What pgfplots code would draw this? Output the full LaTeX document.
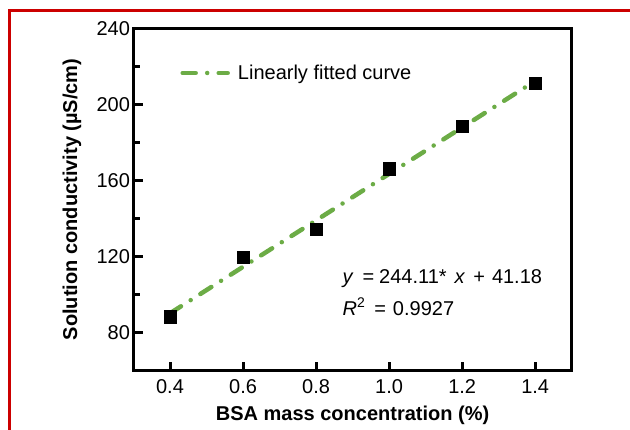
\documentclass[border=0pt]{standalone}
\usepackage{pgfplots}
\pgfplotsset{compat=1.18}
\usepackage{fontspec}
\setmainfont{Liberation Sans}
\definecolor{fitgreen}{RGB}{108,172,70}
\definecolor{framered}{RGB}{204,0,0}
\begin{document}
\begin{tikzpicture}
\useasboundingbox (0,0) rectangle (630bp,-430bp);
\draw[framered, line width=3bp] (9bp,-432bp) -- (9bp,-10bp) -- (632bp,-10bp);
\begin{axis}[
  at={(133.5bp,-370.5bp)}, anchor=south west,
  scale only axis, width=438.2bp, height=342.2bp,
  xmin=0.3, xmax=1.5, ymin=60, ymax=240,
  xtick={0.4,0.6,0.8,1.0,1.2,1.4},
  xticklabels={0.4,0.6,0.8,1.0,1.2,1.4},
  ytick={80,120,160,200,240},
  minor ytick={100,140,180,220},
  tick align=inside, xtick pos=bottom, ytick pos=left,
  major tick length=9bp, minor tick length=6bp,
  tick style={line width=3bp, black},
  axis line style={line width=3.5bp},
  font=\fontsize{20bp}{24bp}\selectfont,
  /pgf/number format/assume math mode=true,
  xticklabel style={yshift=-6bp},
  xlabel={\bfseries BSA mass concentration (\%)},
  xlabel style={at={(axis description cs:0.5,-0.1447)}, anchor=base},
  ylabel={\bfseries Solution conductivity (µS/cm)},
  ylabel style={at={(axis description cs:-0.1403,0.5)}, anchor=center},
  legend style={at={(0.1067,0.8694)}, anchor=west, draw=none, fill=none,
    inner sep=0pt, nodes={inner sep=0pt}, column sep=8bp,
    font=\fontsize{20bp}{24bp}\selectfont},
  legend image code/.code={\draw[#1] (0bp,0bp) -- (45bp,0bp);},
]
\addplot[only marks, mark=square*, mark size=6.3bp, black, forget plot]
  coordinates {(0.4,88.3) (0.6,119.6) (0.8,134.3) (1.0,166.0) (1.2,188.5) (1.4,211.2)};
\addplot[fitgreen, line width=4.5bp, line cap=round,
  dash pattern=on 13bp off 11.5bp on 0bp off 11.5bp]
  coordinates {(0.4,90.1) (1.4,212.3)};
\addlegendentry{Linearly fitted curve}
\node[anchor=base west, inner sep=0pt] at (axis cs:0.872,105.7)
  {\textit{y}\hspace{0.45em}=\hspace{0.25em}244.11*\hspace{0.4em}\textit{x}\hspace{0.4em}+\hspace{0.35em}41.18};
\node[anchor=base west, inner sep=0pt] at (axis cs:0.872,89.1)
  {\textit{R}\textsuperscript{2}\hspace{0.45em}=\hspace{0.35em}0.9927};
\end{axis}
\end{tikzpicture}
\end{document}
